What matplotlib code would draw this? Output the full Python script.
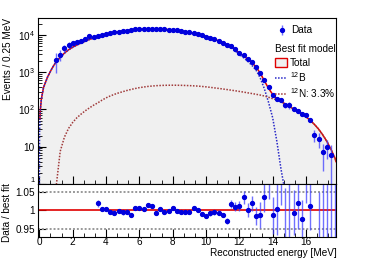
import numpy as np
import matplotlib
matplotlib.use("Agg")
import matplotlib.pyplot as plt
from matplotlib.patches import Patch
from matplotlib.lines import Line2D

plt.rcParams['font.family'] = ['Liberation Sans', 'DejaVu Sans']
plt.rcParams['font.size'] = 7.2
plt.rcParams['mathtext.fontset'] = 'custom'
plt.rcParams['mathtext.rm'] = 'Liberation Sans'
plt.rcParams['mathtext.it'] = 'Liberation Sans'

# -----------------------------
# Model curves (events / 0.25 MeV)
# -----------------------------
curve_e = [0.0, 0.01, 0.03, 0.06, 0.12] + list(np.arange(0.25, 17.76, 0.25)) + [17.8]

b12 = [1.0, 20, 55, 100, 190,
       390, 760, 1250, 1899, 2490, 3230, 3970, 4655, 5340, 6025, 6710, 7490,
       8170, 8850, 9520, 10300, 10970, 11545, 12020, 12500, 12880, 13255, 13585, 13865,
       14050, 14185, 14225, 14165, 14010, 13805, 13500, 13150, 12750, 12300, 11810, 11260,
       10670, 10025, 9385, 8695, 8005, 7320, 6630, 5945, 5255, 4570, 3730, 2995,
       2457, 1970, 1532, 1144, 706, 360, 157, 60, 14, 2.5, 0.6, np.nan,
       np.nan, np.nan, np.nan, np.nan, np.nan, np.nan, np.nan, np.nan, np.nan, np.nan, np.nan,
       np.nan]

n12 = [np.nan, np.nan, np.nan, np.nan, np.nan,
       np.nan, np.nan, np.nan, 0.8, 7.5, 18, 31, 45, 60, 75, 92, 110,
       130, 150, 177, 205, 230, 255, 278, 300, 323, 345, 365, 385,
       400, 415, 425, 435, 440, 445, 447, 448, 447, 445, 441, 437,
       431, 425, 415, 405, 393, 380, 368, 355, 343, 330, 318, 305,
       293, 280, 268, 256, 244, 230, 213, 195, 181, 163, 140, 120,
       104, 90, 77, 64, 51, 40, 30, 21, 14, 8.5, 4.8,
       4.0]

# -----------------------------
# Data (top panel)
# -----------------------------
data_e = np.arange(1.0, 17.51, 0.25)
data_top = [2170, 2950, 4440, 5430, 6030, 6400, 6930, 7830, 9570, 9010,
            9170, 9740, 10540, 11155, 11730, 12290, 12740, 13160, 13450, 14060,
            14360, 14490, 14820, 14830, 14510, 14490, 14180, 13940, 13710, 13190,
            12700, 12210, 11660, 11190, 10460, 9700, 8960, 8330, 7660, 6960,
            6220, 5440, 4980, 4090, 3340, 2850, 2250, 1830, 1380, 940,
            610, 395, 252, 196, 177, 129, 130, 103, 92, 75,
            72, 52, 21, 16.3, 7.2, 9.8, 5.9]
data_err = [1200, 1000, 900, 1000, 700, 500, 400, 350, 300, 250,
            90, 80, 80, 80, 75, 75, 75, 75, 75, 75,
            75, 75, 75, 75, 75, 75, 75, 75, 75, 75,
            75, 70, 70, 70, 70, 65, 60, 60, 55, 55,
            50, 50, 50, 45, 45, 50, 40, 36, 35, 33,
            24, 22, 13, 14, 10, 18, 24, 6, 6.5, 4,
            6, 3.3, 8, 7, 5, 5, 5]

# -----------------------------
# Data / best fit (bottom panel)
# -----------------------------
ratio_e = np.arange(3.5, 17.76, 0.25)
ratio = [1.019, 1.004, 1.004, 0.996, 0.994, 0.999, 0.995, 0.997, 0.989, 1.008,
         1.008, 1.003, 1.015, 1.012, 0.994, 1.003, 0.995, 0.999, 1.008, 0.999,
         0.995, 0.997, 0.997, 1.008, 1.001, 0.990, 0.985, 0.992, 0.995, 0.994,
         0.988, 0.972, 1.017, 1.010, 1.012, 1.035, 1.001, 1.019, 0.985, 0.987,
         1.035, 1.09, 0.987, 1.005, 1.09, 0.92, 1.12, 0.994, 1.02, 0.978,
         1.10, 1.012, 0.5, 0.85, 0.7, 1.3, 0.8, 1.5]
ratio_err = [0.010, 0.006, 0.006, 0.006, 0.006, 0.006, 0.006, 0.006, 0.005, 0.005,
             0.005, 0.005, 0.005, 0.005, 0.005, 0.005, 0.005, 0.005, 0.005, 0.005,
             0.005, 0.005, 0.005, 0.005, 0.005, 0.005, 0.006, 0.006, 0.006, 0.006,
             0.006, 0.008, 0.010, 0.012, 0.013, 0.018, 0.018, 0.020, 0.025, 0.035,
             0.040, 0.06, 0.05, 0.07, 0.075, 0.14, 0.2, 0.06, 0.07, 0.05,
             0.08, 0.065, 0.2, 0.2, 0.4, 0.5, 0.5, 0.8]

x_ticks = [0, 2, 4, 6, 8, 10, 12, 14, 16]
y_ticks = [1, 10, 100, 1000, 10000]
y_ticklabels = ['1', '10', r'$10^{2}$', r'$10^{3}$', r'$10^{4}$']
r_ticks = [0.95, 1.0, 1.05]
r_ticklabels = ['0.95', '1', '1.05']

c_data = '#0000dd'
c_err = (0.25, 0.25, 1.0, 0.75)
c_total = '#e00000'
c_b12 = '#2828c8'
c_n12 = '#a03a3a'
c_fill = '#f0f0f0'

b12 = np.array(b12, dtype=float)
n12 = np.array(n12, dtype=float)
total_fill = np.nan_to_num(b12) + np.nan_to_num(n12)
total_line = total_fill.copy()
total_line[np.array(curve_e) < 0.03] = np.nan

fig = plt.figure(figsize=(3.74, 2.64), dpi=100)
ax = fig.add_axes([0.1008, 0.303, 0.7976, 0.6288])
axr = fig.add_axes([0.1008, 0.1023, 0.7976, 0.2008], sharex=ax)

ax.fill_between(curve_e, total_fill, 0.1, color=c_fill, lw=0)
ax.plot(curve_e, total_line, color=c_total, lw=1.1)
ax.plot(curve_e, b12, color=c_b12, lw=1.1, ls=(0, (1, 1)))
ax.plot(curve_e, n12, color=c_n12, lw=1.1, ls=(0, (1, 1)))
h_data = ax.errorbar(data_e, data_top, yerr=data_err, fmt='o', ms=2.8,
                     color=c_data, ecolor=c_err, elinewidth=1, capsize=0)

ax.set_yscale('log')
ax.set_xlim(-0.1, 17.8)
ax.set_ylim(1, 2.85e4)
ax.set_yticks(y_ticks, labels=y_ticklabels)
ax.set_xticks(x_ticks)
ax.xaxis.set_minor_locator(matplotlib.ticker.MultipleLocator(2 / 3))
ax.tick_params(which='both', direction='in', top=False, right=False,
               labelbottom=False, pad=2)
ax.tick_params(which='major', length=6, width=0.8)
ax.tick_params(which='minor', length=3, width=0.6)
# the "1" label sits at the pad edge, keep it clear of the ratio labels
lab1 = ax.get_yticklabels()[0]
lab1.set_fontsize(5.5)
lab1.set_verticalalignment('bottom')

# Legend
leg1 = ax.legend([h_data], ['Data'], loc='upper left', bbox_to_anchor=(0.798, 0.955),
                 frameon=False, borderpad=0, borderaxespad=0, handlelength=1.2,
                 handletextpad=0.3)
ax.add_artist(leg1)
handles = [Patch(facecolor=c_fill, edgecolor=c_total, lw=1.0),
           Line2D([], [], color=c_b12, lw=1.1, ls=(0, (1, 1))),
           Line2D([], [], color=c_n12, lw=1.1, ls=(0, (1, 1)))]
labels = ['Total', r'$^{12}$B', r'$^{12}$N: 3.3%']
leg2 = ax.legend(handles, labels, title='Best fit model', loc='upper left',
                 bbox_to_anchor=(0.795, 0.845), frameon=False, borderpad=0,
                 borderaxespad=0, handlelength=1.2, handleheight=1.0,
                 handletextpad=0.3, labelspacing=0.22, alignment='left',
                 title_fontsize=7.2)
leg2._legend_box.sep = 3

# Ratio panel
axr.axhline(1.05, color='#999999', lw=1.4, ls=(0, (1, 1)))
axr.axhline(0.95, color='#999999', lw=1.4, ls=(0, (1, 1)))
axr.axhline(1.0, color=c_total, lw=1.2)
axr.errorbar(ratio_e, ratio, yerr=ratio_err, fmt='o', ms=2.8,
             color=c_data, ecolor=c_err, elinewidth=1, capsize=0)
axr.set_ylim(0.929, 1.071)
axr.set_yticks(r_ticks, labels=r_ticklabels)
axr.set_xticks(x_ticks, labels=[str(t) for t in x_ticks])
axr.tick_params(which='both', direction='in', top=False, right=False, pad=2)
axr.tick_params(which='major', length=6, width=0.8)
axr.tick_params(which='minor', length=3, width=0.6)
axr.tick_params(axis='x', pad=0.2)

fig.text(8 / 374, 1 - 18 / 264, 'Events / 0.25 MeV', rotation=90, ha='center', va='top')
fig.text(7.5 / 374, 1 - 213 / 264, 'Data / best fit', rotation=90, ha='center', va='center')
fig.text(336.7 / 374, 1 - 253 / 264, 'Reconstructed energy [MeV]', ha='right', va='center')

fig.savefig('out.png', dpi=100)
